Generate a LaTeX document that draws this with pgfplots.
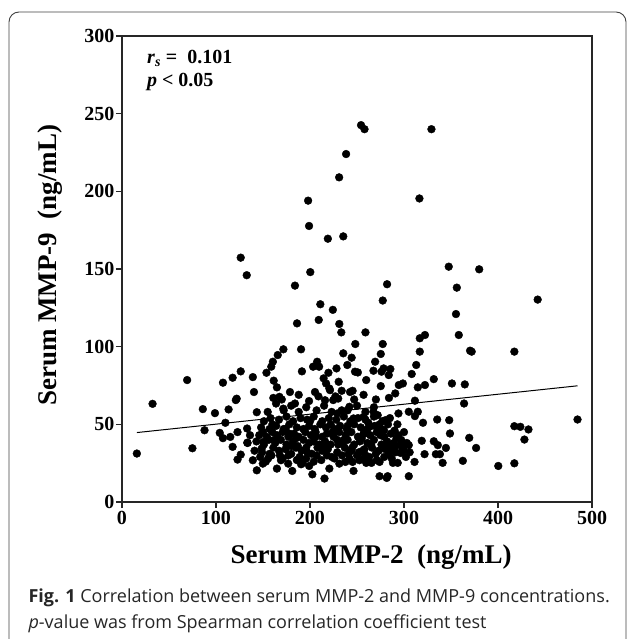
\documentclass[border=0pt]{standalone}
\usepackage{fontspec}
\setmainfont{Liberation Serif}
\newfontfamily\capfont{Open Sans}
\usepackage{pgfplots}
\pgfplotsset{compat=1.18}

\begin{document}
\begin{tikzpicture}
\begin{axis}[
    name=ax,
    scale only axis, width=470pt, height=466pt,
    xmin=0, xmax=500, ymin=0, ymax=300,
    xtick={0,100,...,500}, ytick={0,50,...,300},
    tick pos=left, tick align=outside,
    major tick length=6pt,
    axis line style={line width=1.3pt, black!85},
    tick style={line width=1.3pt, black!85},
    ticklabel style={font=\fontsize{20}{20}\selectfont\bfseries},
    yticklabel style={xshift=2pt},
    /pgf/number format/assume math mode=true,
    xlabel={Serum MMP-2\hspace{0.5em}(ng/mL)},
    ylabel={Serum MMP-9\hspace{0.5em}(ng/mL)},
    label style={font=\fontsize{27}{27}\selectfont\bfseries},
    xlabel style={at={(axis description cs:0.53,-0.131)}, anchor=base},
    ylabel style={at={(axis description cs:-0.140,0.508)}, anchor=base},
    clip=false,
]
% points
\addplot[only marks, mark=*, mark size=3.9pt, black] coordinates {
(126.3,157.3) (132.7,146) (184,139.3) (198,194) (199,177.7) (200.3,148) (219,169.5)
(231,209) (235.4,171) (238.4,224) (254.3,242.6) (258,240) (329.2,240) (316.4,195.4)
(277.4,129.7) (282,140.2) (347.6,151.5) (380,149.8) (356.2,138) (355.3,121) (442.2,130.3)
(211,127.3) (224.3,123.7)
(186.2,115) (209.3,117.2) (231.2,114.6) (233.3,109.2) (259,109.2) (358.3,107.5)
(203.3,87.1) (207.6,90.3) (209.7,87.1) (214.5,79.6) (219.6,83.2) (228.2,86) (235.4,95.7)
(239.7,88.2) (244.3,92.9) (248.2,101.7) (247.9,83.9) (250.9,83.4) (245.3,71.6) (233.7,71.6)
(259.8,78.5) (267.5,84.5) (269.3,90.3) (275.3,95.3) (277.4,101.7) (276.1,83.9) (278.3,86)
(285.5,85.6) (283.8,81.7) (275.3,74.6) (294.5,75.3) (298.8,76.3) (290.7,69.9) (270.1,66)
(308.2,82.4) (313,88.2) (314.7,73.8) (316.8,96.8) (316.8,105.4) (322.3,107.5) (322.3,75.3)
(331.7,79.1) (351,76.3) (364.7,75.7) (370.3,97.4) (372,96.8) (417.4,96.8) (363.9,63.4)
(311.6,65.2)
(484.6,53.1) (417.4,48.8) (423.8,48.4) (432.4,46.7) (428.1,40.2) (400.3,23.2) (417.4,24.9)
(376.7,34.8) (369.4,41.3) (362.6,26.5) (348.9,44.1) (348.1,52.7) (335.3,53.1) (331.7,39.1)
(336,36.6) (344.6,34.8) (338.2,30.8) (333.9,30.8) (341.1,25.2) (321.9,30.8) (318.9,39.4)
(320.2,51) (311.6,55.3) (314.7,58.1) (305.1,58.1) (311.2,25.8) (305.1,16.6) (282.6,16.6)
(274,16.6) (281.7,15.5) (274,25.8) (283.8,30.8) (293.3,25.2) (288.2,25.2) (296.3,31.6)
(299.7,33.3) (305.1,36.6) (292,41) (290,46) (293,50) (294.1,57) (280.4,52.7) (278.7,46.2)
(272,55.9) (267.5,58.1) (263.4,48.4) (257,44.1) (257,54.8) (246.3,53.8) (241.9,61.3)
(229,57) (224.7,65.6) (220.6,73.1) (217.1,76.3) (230.5,77.4)
(15.8,31.2) (32.5,63.2) (69.3,78.5) (74.9,34.6) (86,59.8) (87.8,46.2) (98.9,57.2)
(107.4,76.8) (117.7,80) (126.3,84.1) (113.4,59.6) (121.1,65.6) (122,66.5) (104,44.5)
(107.4,41.1) (110,51) (115.2,41.9) (122.9,45) (117.7,35.5) (122.9,27.3) (126.3,30.5)
(133.1,47.3) (133.6,38) (139.2,80.4) (140.4,70.8) (143.4,57.8) (139.2,26.9) (143.4,20.4)
(153.7,83.2) (158.8,87.1) (160.5,90.3) (165.7,94.6) (171.7,98.3) (190.5,98.3) (191.4,84.1)
(161.4,78.1) (164.8,73.8) (167.5,67.7) (163.9,63.4)
(149.8,24.7) (155.4,28) (164.8,21.5) (169.1,26.9) (176.8,24.7) (181.1,20) (190.5,24.3)
(199.1,23.2) (202.5,17.8) (215.4,15.1) (220.6,21.5) (223.2,29) (231.2,24.7) (237.7,25.8)
(246.3,20) (245.3,25.8) (252.6,26.9) (259,30.1) (259.8,25.2) (265.4,25.2)
(161,67) (171.6,60.1) (178.7,70.8) (184,63.4) (205.3,70.8) (216,65.5) (221.3,72) (230,66.6)
(242.6,70.8) (233.7,59) (136.2,43) (133.3,38.2) (150.3,38.6) (148.6,34.4)
(147,29) (153,26) (159,30) (171,28) (177,30) (186,27) (189,29) (196,28) (207,30) (212,27)
(226,28) (234,30) (242,28) (250,30) (257,28) (263,29) (271,27) (279,29) (287,28) (302,29)
(141,33) (149,32) (157,31) (161,35) (167,33) (174,34) (180,31) (185,35) (191,33) (197,32)
(202,31) (208,35) (213,33) (219,34) (229,32) (237,35) (244,33) (252,32) (258,34) (266,35)
(273,33) (285,34) (291,32) (298,35) (306,32)
(143,39) (151,37) (156,40) (163,38) (169,40) (175,37) (182,39) (187,36) (193,40) (199,38)
(204,39) (210,37) (216,39) (222,37) (229,40) (235,38) (240,40) (247,37) (253,39) (261,38)
(268,40) (276,37) (282,39) (289,38) (297,40) (303,38)
(146,43) (154,42) (160,45) (165,43) (171,45) (177,42) (183,44) (188,42) (195,45) (201,43)
(206,45) (213,42) (218,44) (225,42) (231,45) (238,43) (244,45) (251,42) (258,44) (264,43)
(271,45) (279,42) (286,44) (294,43) (300,45)
(148,48) (157,47) (164,49) (172,47) (178,50) (186,48) (193,47) (199,49) (205,47) (211,50)
(217,48) (226,47) (232,49) (239,47) (247,50) (254,48) (261,47) (269,49) (276,47) (283,50)
(151,52) (158,54) (167,53) (175,55) (182,52) (190,54) (197,53) (204,55) (213,52) (220,54)
(228,53) (236,55) (243,52) (251,54) (259,53) (268,55) (277,52) (285,54)
(155,58) (172,59) (180,62) (188,58) (196,61) (207,59) (215,62) (223,58) (240,59) (250,62)
(259,58) (268,61) (170,66) (188,69) (199,65) (209,68) (227,68) (247,66) (257,69) (284,67)
(150,45) (162,40) (174,47) (185,41) (196,35) (206,42) (215,36) (224,45) (236,40) (245,35)
(255,41) (265,37) (275,43) (283,36) (296,37) (168,30) (180,36) (192,25) (204,26) (218,30)
(230,37) (241,31) (256,33) (270,31) (280,34) (290,35) (160,50) (178,44) (200,52) (222,50)
(240,49) (262,51) (274,50)
};
% trend line
\addplot[black, line width=1pt] coordinates {(15.8,44.7) (484.6,74.8)};
\node[anchor=base west, inner sep=0pt, font=\fontsize{20}{20}\selectfont\bfseries] at (axis description cs:0.053,0.941)
  {\textit{r}\textsubscript{\textit{s}} =\ \ 0.101};
\node[anchor=base west, inner sep=0pt, font=\fontsize{20}{20}\selectfont\bfseries] at (axis description cs:0.053,0.891)
  {\textit{p} < 0.05};
\end{axis}
\begin{scope}[shift={([shift={(-122pt,-137pt)}]ax.south west)}, x=1pt, y=1pt]
% frame round figure and caption
\draw[line width=0.9pt, rounded corners=10pt, black!75] (9,-20) -- (9,627) -- (626,627) -- (626,-20);
% caption
\node[anchor=base west, font=\capfont\fontsize{18}{18}\selectfont, text=black!85] at (25,37)
  {\textbf{Fig. 1} Correlation between serum MMP-2 and MMP-9 concentrations.};
\node[anchor=base west, font=\capfont\fontsize{18}{18}\selectfont, text=black!85] at (25,11)
  {\textit{p}-value was from Spearman correlation coefficient test};
\pgfresetboundingbox
\useasboundingbox (0,0) rectangle (629,639);
\end{scope}
\end{tikzpicture}
\end{document}
